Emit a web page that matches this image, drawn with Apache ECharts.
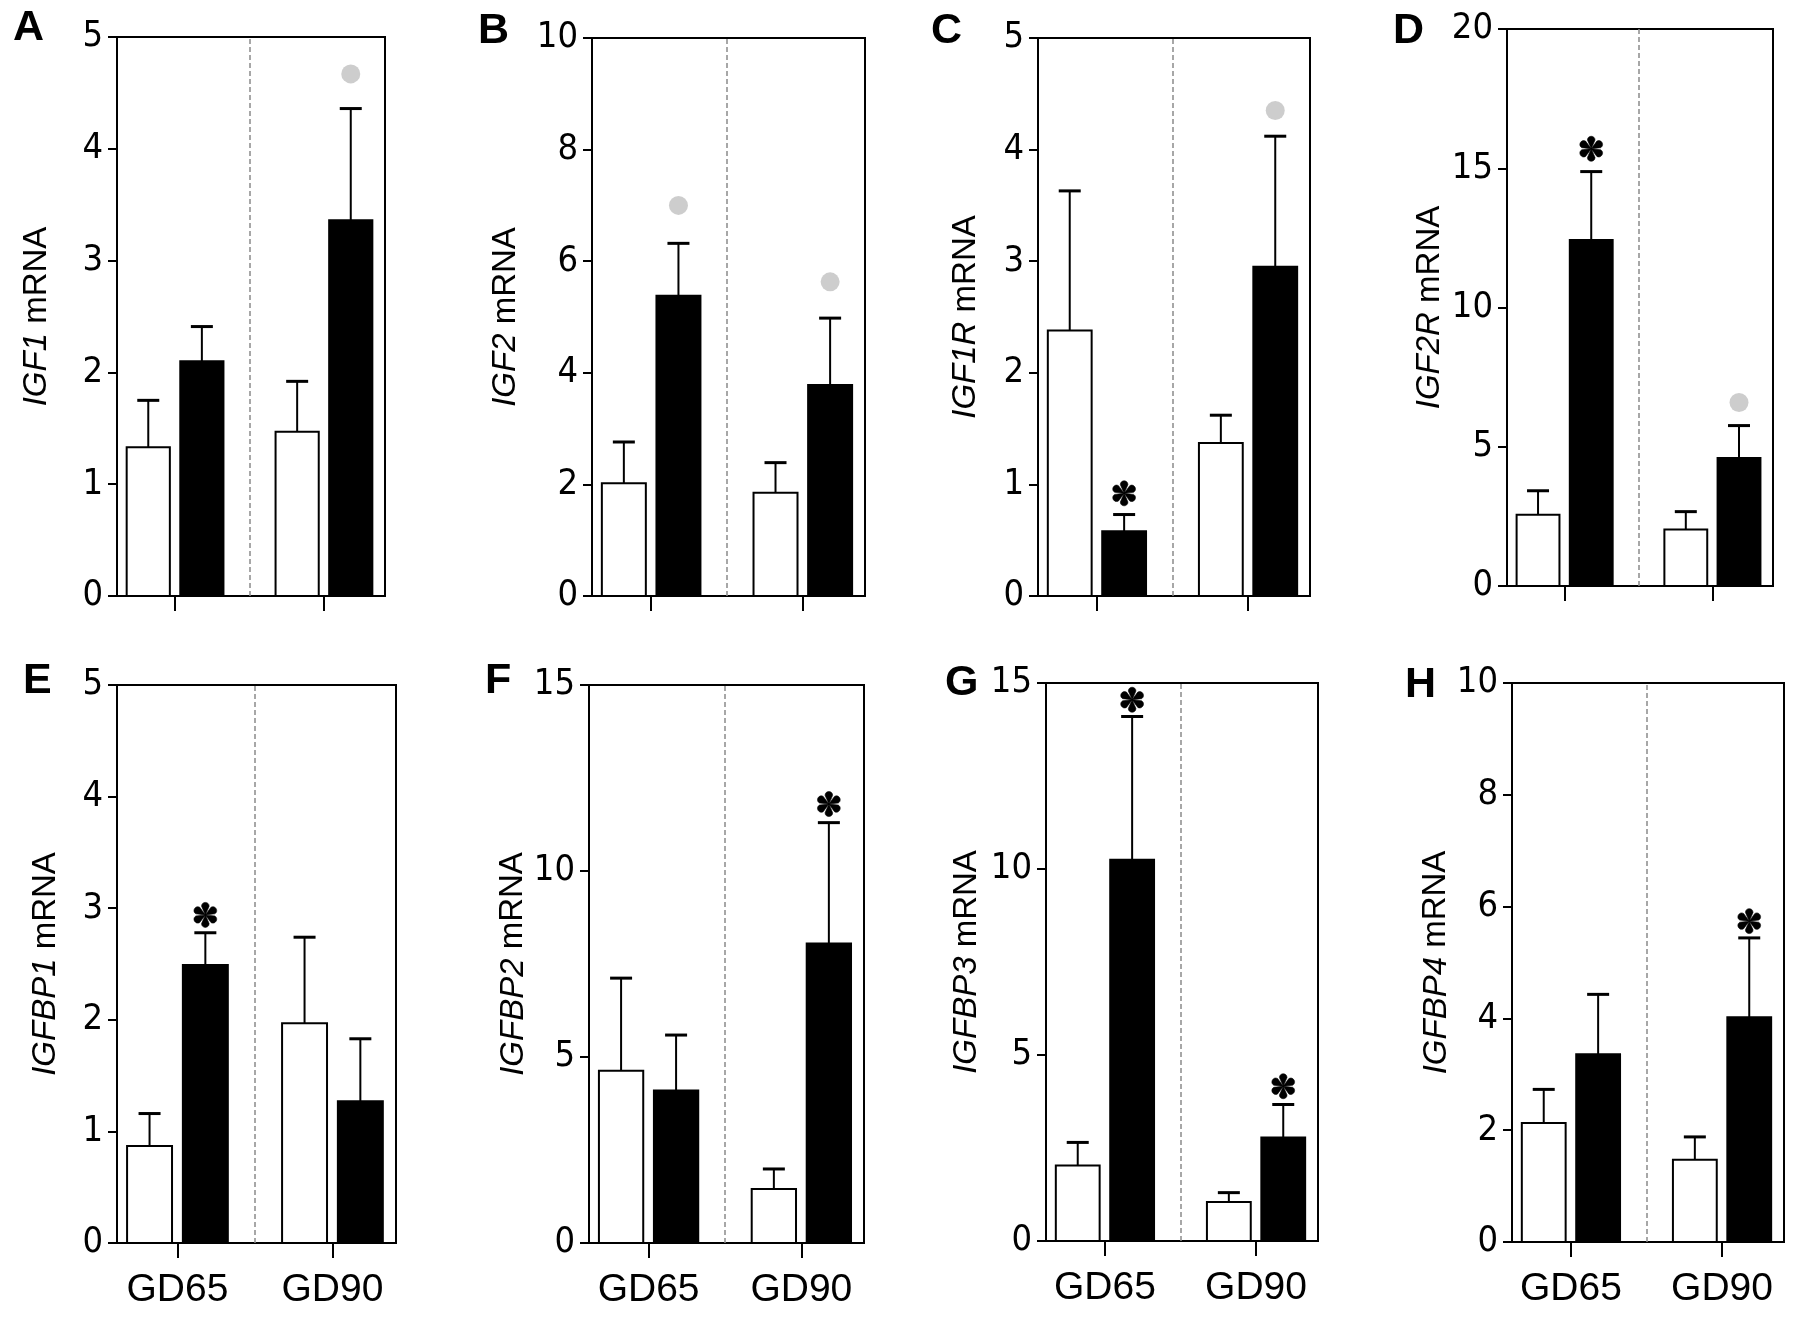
<!DOCTYPE html>
<html><head><meta charset="utf-8">
<script src="https://cdn.jsdelivr.net/npm/echarts@6/dist/echarts.min.js"></script>
<style>html,body{margin:0;padding:0;background:#fff}#c{width:1800px;height:1320px}</style>
</head><body><div id="c"></div>
<script>
// ---- data ----
const groups = ['GD65', 'GD90'];
const genes = ['IGF1', 'IGF2', 'IGF1R', 'IGF2R', 'IGFBP1', 'IGFBP2', 'IGFBP3', 'IGFBP4'];
const panelLetters = ['A', 'B', 'C', 'D', 'E', 'F', 'G', 'H'];
const yMax = [5, 10, 5, 20, 5, 15, 15, 10];
const yStep = [1, 2, 1, 5, 1, 5, 5, 2];
const ctrlMean = [[1.33, 1.47], [2.02, 1.85], [2.38, 1.37], [2.56, 2.03], [0.87, 1.97], [4.63, 1.45], [2.03, 1.05], [2.13, 1.47]];
const ctrlSem  = [[0.42, 0.45], [0.74, 0.54], [1.25, 0.25], [0.86, 0.64], [0.29, 0.77], [2.49, 0.54], [0.62, 0.25], [0.60, 0.41]];
const trtMean  = [[2.10, 3.36], [5.38, 3.78], [0.58, 2.95], [12.42, 4.60], [2.49, 1.27], [4.10, 8.05], [10.25, 2.78], [3.36, 4.02]];
const trtSem   = [[0.31, 1.00], [0.94, 1.20], [0.15, 1.17], [2.46, 1.16], [0.29, 0.56], [1.49, 3.25], [3.85, 0.89], [1.07, 1.42]];
const starAt   = [[null, null], [null, null], [0.92, null], [15.7, null], [2.94, null], [null, 11.8], [14.55, 4.16], [null, 5.74]];
const dotAt    = [[null, 4.67], [7.0, 5.63], [null, 4.35], [null, 6.59], [null, null], [null, null], [null, null], [null, null]];

// ---- layout (pixels) ----
const layout = [
  {left: 117, top: 37, width: 268, height: 559, gap: 64, lx: 13, ly: 7},
  {left: 592, top: 38, width: 273, height: 558, gap: 70, lx: 478, ly: 10},
  {left: 1038, top: 38, width: 272, height: 558, gap: 56, lx: 931, ly: 10},
  {left: 1507, top: 29, width: 266, height: 557, gap: 61, lx: 1393, ly: 10},
  {left: 117, top: 685, width: 279, height: 558, gap: 55, lx: 23, ly: 660},
  {left: 589, top: 685, width: 275, height: 558, gap: 54, lx: 485, ly: 660},
  {left: 1046, top: 683, width: 272, height: 558, gap: 63, lx: 945, ly: 662},
  {left: 1512, top: 683, width: 272, height: 559, gap: 55, lx: 1405, ly: 664}
];

const NUM_FONT = "'Liberation Sans Narrow', 'DejaVu Sans Condensed', 'Liberation Sans', sans-serif";
const TXT_FONT = "'Liberation Sans', Arial, sans-serif";
const HALF = 0.145, OFF = 0.18;
function barRender(offset, fill) {
  return function (params, api) {
    const g = api.value(0), m = api.value(1), s = api.value(2);
    const x = g + offset;
    const tl = api.coord([x - HALF, m]);
    const br = api.coord([x + HALF, 0]);
    const bt = api.coord([x, m]);
    const et = api.coord([x, m + s]);
    return {
      type: 'group',
      children: [
        {type: 'line', shape: {x1: bt[0], y1: bt[1], x2: et[0], y2: et[1]}, style: {stroke: '#000', lineWidth: 2}},
        {type: 'line', shape: {x1: et[0] - 11, y1: et[1], x2: et[0] + 11, y2: et[1]}, style: {stroke: '#000', lineWidth: 3}},
        {type: 'rect', shape: {x: tl[0], y: tl[1], width: br[0] - tl[0], height: br[1] - tl[1]}, style: {fill: fill, stroke: '#000', lineWidth: 2}}
      ]
    };
  };
}
function asteriskPath(R, W) {
  const c = R - W, k = 1.33 * W;
  const f = v => v.toFixed(2);
  let d = '';
  for (let j = 0; j < 6; j++) {
    const a = (-90 + j * 60) * Math.PI / 180;
    const ux = Math.cos(a), uy = Math.sin(a), px = -uy, py = ux;
    const p1x = c * ux - W * px, p1y = c * uy - W * py;
    const p2x = c * ux + W * px, p2y = c * uy + W * py;
    d += `M0,0 L${f(p1x)},${f(p1y)} C${f(p1x + k * ux)},${f(p1y + k * uy)} ${f(p2x + k * ux)},${f(p2y + k * uy)} ${f(p2x)},${f(p2y)} Z `;
  }
  return d;
}
const STAR = asteriskPath(12.5, 3.8);
function starRender(params, api) {
  const p = api.coord([api.value(0), api.value(1)]);
  return {type: 'path', x: p[0], y: p[1], shape: {pathData: STAR}, style: {fill: '#000', stroke: '#000', lineWidth: 0.6}};
}

const grids = [], xAxes = [], yAxes = [], series = [], graphics = [];
for (let p = 0; p < 8; p++) {
  const L = layout[p];
  grids.push({left: L.left, top: L.top, width: L.width, height: L.height, show: true, borderColor: '#000', borderWidth: 2, backgroundColor: 'transparent'});
  xAxes.push({
    gridIndex: p, type: 'value', min: -0.39, max: 1.41,
    axisLine: {show: true, onZero: false, lineStyle: {color: '#000', width: 2}},
    axisTick: {show: true, customValues: [0, 1], length: 15, lineStyle: {color: '#000', width: 2}},
    axisLabel: {show: p >= 4, customValues: [0, 1], formatter: v => groups[Math.round(v)], fontFamily: TXT_FONT, fontSize: 39, color: '#000', margin: 28},
    splitLine: {show: false}
  });
  yAxes.push({
    gridIndex: p, type: 'value', min: 0, max: yMax[p], interval: yStep[p],
    axisLine: {show: true, onZero: false, lineStyle: {color: '#000', width: 2}},
    axisTick: {show: true, length: 9, lineStyle: {color: '#000', width: 2}},
    axisLabel: {fontFamily: NUM_FONT, fontSize: 36, color: '#000', margin: 14},
    splitLine: {show: false},
    name: '{i|' + genes[p] + '} mRNA', nameLocation: 'middle', nameGap: L.gap,
    nameTextStyle: {fontFamily: TXT_FONT, fontSize: 33, color: '#000',
      rich: {i: {fontStyle: 'italic', fontFamily: TXT_FONT, fontSize: 33, color: '#000'}}}
  });
  series.push({
    type: 'custom', xAxisIndex: p, yAxisIndex: p, renderItem: barRender(-OFF, '#fff'),
    data: ctrlMean[p].map((m, g) => [g, m, ctrlSem[p][g]]),
    markLine: {silent: true, symbol: 'none', label: {show: false},
      lineStyle: {type: [5, 3], color: '#8a8a8a', width: 1.5}, data: [{xAxis: 0.5}]}
  });
  series.push({
    type: 'custom', xAxisIndex: p, yAxisIndex: p, renderItem: barRender(OFF, '#000'),
    data: trtMean[p].map((m, g) => [g, m, trtSem[p][g]])
  });
  const dots = [];
  dotAt[p].forEach((v, g) => { if (v != null) dots.push([g + OFF, v]); });
  if (dots.length) series.push({type: 'scatter', xAxisIndex: p, yAxisIndex: p, data: dots, symbol: 'circle', symbolSize: 19, itemStyle: {color: '#c0c0c0'}, z: 5});
  const stars = [];
  starAt[p].forEach((v, g) => { if (v != null) stars.push([g + OFF, v]); });
  if (stars.length) series.push({type: 'custom', xAxisIndex: p, yAxisIndex: p, renderItem: starRender, data: stars, z: 5});
  graphics.push({type: 'text', x: L.lx, y: L.ly, style: {text: panelLetters[p], fontFamily: TXT_FONT, fontWeight: 'bold', fontSize: 43, fill: '#000', verticalAlign: 'top'}});
}

const chart = echarts.init(document.getElementById('c'), null, {renderer: 'canvas'});
chart.setOption({
  animation: false,
  backgroundColor: '#fff',
  grid: grids, xAxis: xAxes, yAxis: yAxes, series: series, graphic: graphics
});
</script></body></html>
